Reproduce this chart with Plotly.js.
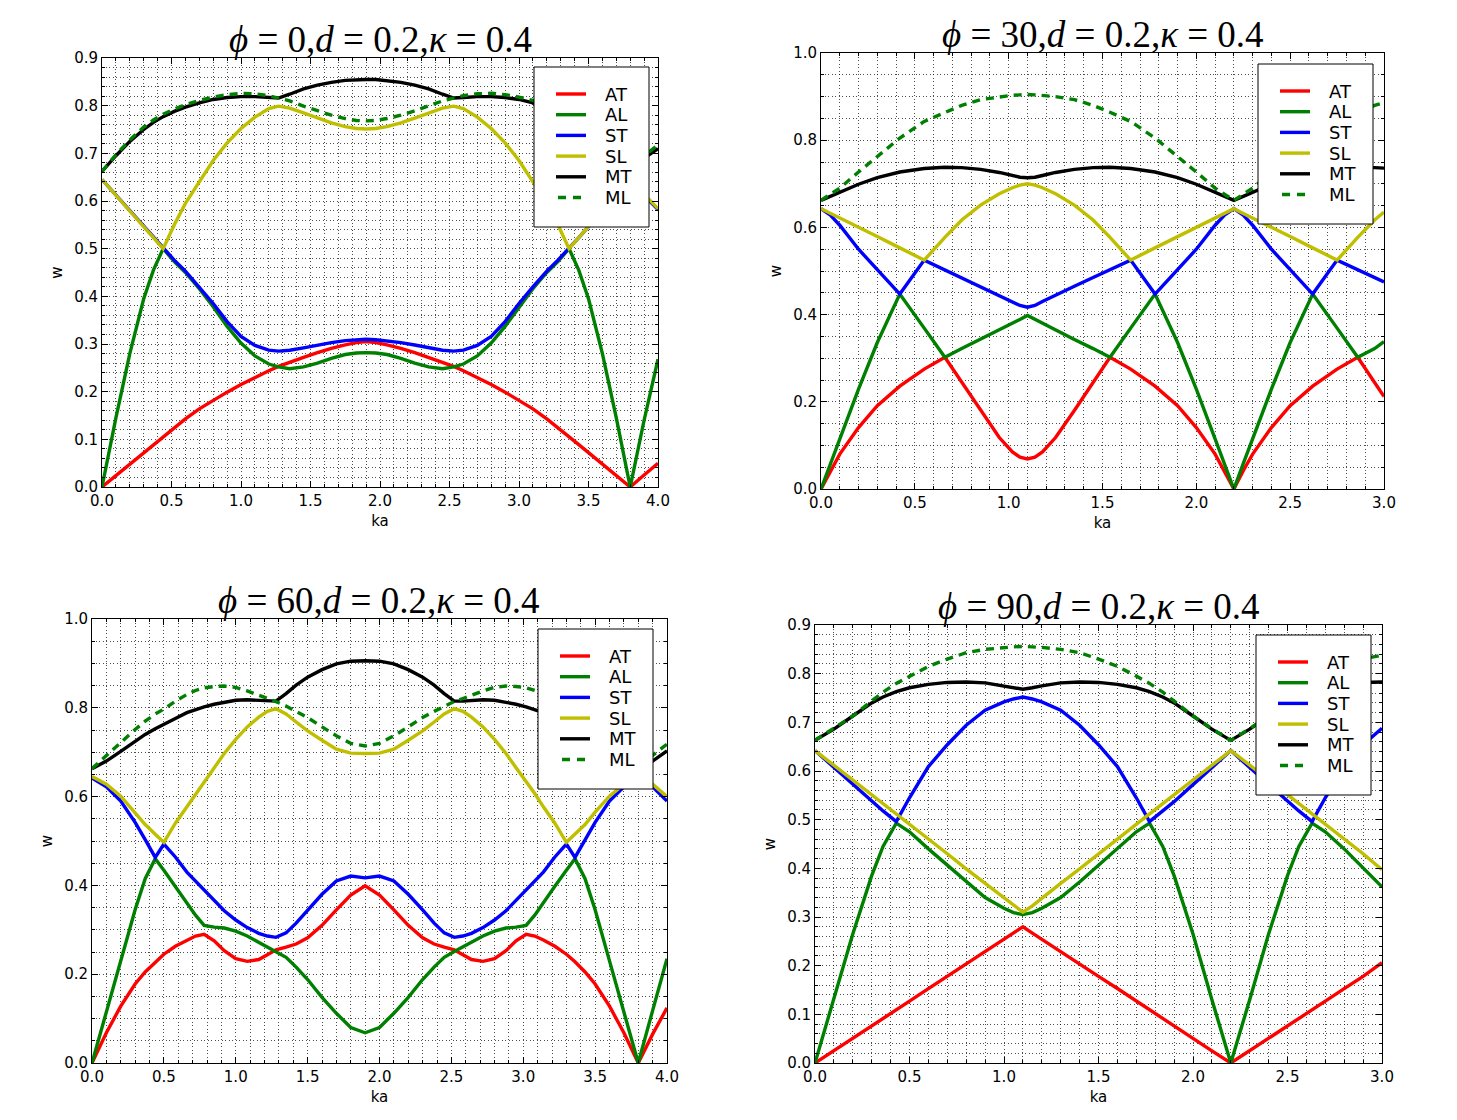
<!DOCTYPE html>
<html>
<head>
<meta charset="utf-8">
<script src="https://cdn.plot.ly/plotly-3.0.1.min.js"></script>
<style>
  html, body { margin: 0; padding: 0; background: #fff; }
  #chart { width: 1457px; height: 1120px; }
</style>
</head>
<body>
<div id="chart"></div>
<script>
// ---------- phi = 0 ----------
const KA_PHI0 = [0, 0.1, 0.2, 0.3, 0.37, 0.44, 0.52, 0.6, 0.7, 0.8, 0.9, 1.0, 1.1, 1.2, 1.27, 1.35, 1.45, 1.55, 1.65, 1.75, 1.83, 1.9,
  1.97, 2.05, 2.15, 2.25, 2.35, 2.45, 2.53, 2.6, 2.7, 2.8, 2.9, 3.0, 3.1, 3.2, 3.28, 3.36, 3.43, 3.5, 3.6, 3.7, 3.8, 3.9, 4.0];
const AT_PHI0 = [0, 0.024, 0.048, 0.072, 0.089, 0.106, 0.125, 0.143, 0.164, 0.182, 0.199, 0.215, 0.23, 0.244, 0.253, 0.262, 0.272, 0.282, 0.291, 0.298, 0.303, 0.305,
  0.303, 0.298, 0.291, 0.282, 0.272, 0.262, 0.253, 0.244, 0.23, 0.215, 0.199, 0.182, 0.164, 0.143, 0.125, 0.106, 0.089, 0.072, 0.048, 0.024, 0, 0.025, 0.05];
const AL_PHI0 = [0, 0.145, 0.28, 0.395, 0.455, 0.5, 0.473, 0.45, 0.416, 0.378, 0.337, 0.302, 0.275, 0.258, 0.252, 0.248, 0.252, 0.26, 0.27, 0.278, 0.281, 0.282,
  0.281, 0.278, 0.27, 0.26, 0.252, 0.248, 0.252, 0.258, 0.275, 0.302, 0.337, 0.378, 0.416, 0.45, 0.473, 0.5, 0.455, 0.395, 0.28, 0.145, 0, 0.14, 0.268];
const ST_PHI0 = [0.645, 0.612, 0.579, 0.546, 0.523, 0.5, 0.476, 0.453, 0.42, 0.385, 0.347, 0.316, 0.297, 0.287, 0.285, 0.287, 0.292, 0.298, 0.303, 0.307, 0.309, 0.31,
  0.309, 0.307, 0.303, 0.298, 0.292, 0.287, 0.285, 0.287, 0.297, 0.316, 0.347, 0.385, 0.42, 0.453, 0.476, 0.5, 0.523, 0.546, 0.579, 0.612, 0.645, 0.612, 0.582];
const SL_PHI0 = [0.645, 0.612, 0.579, 0.546, 0.523, 0.5, 0.55, 0.595, 0.64, 0.685, 0.722, 0.752, 0.776, 0.794, 0.799, 0.795, 0.785, 0.774, 0.764, 0.756, 0.752, 0.751,
  0.752, 0.756, 0.764, 0.774, 0.785, 0.795, 0.799, 0.794, 0.776, 0.752, 0.722, 0.685, 0.64, 0.595, 0.55, 0.5, 0.523, 0.546, 0.579, 0.612, 0.645, 0.614, 0.584];
const MT_PHI0 = [0.662, 0.695, 0.725, 0.75, 0.765, 0.777, 0.788, 0.797, 0.806, 0.813, 0.817, 0.819, 0.819, 0.817, 0.816, 0.824, 0.835, 0.843, 0.849, 0.853, 0.855, 0.855,
  0.855, 0.853, 0.849, 0.843, 0.835, 0.824, 0.816, 0.817, 0.819, 0.819, 0.817, 0.813, 0.806, 0.797, 0.788, 0.777, 0.765, 0.75, 0.725, 0.695, 0.662, 0.69, 0.71];
const ML_PHI0 = [0.662, 0.697, 0.728, 0.755, 0.77, 0.782, 0.793, 0.802, 0.811, 0.818, 0.823, 0.826, 0.825, 0.821, 0.816, 0.81, 0.799, 0.789, 0.78, 0.773, 0.769, 0.768,
  0.769, 0.773, 0.78, 0.789, 0.799, 0.81, 0.816, 0.821, 0.825, 0.826, 0.823, 0.818, 0.811, 0.802, 0.793, 0.782, 0.77, 0.755, 0.728, 0.697, 0.662, 0.694, 0.718];

// ---------- phi = 30 ----------
const KA_PHI30 = [0, 0.05, 0.1, 0.2, 0.3, 0.42, 0.55, 0.66, 0.75, 0.85, 0.95, 1.02, 1.06, 1.1,
  1.14, 1.18, 1.25, 1.35, 1.45, 1.54, 1.65, 1.78, 1.9, 2.0, 2.1, 2.15, 2.2,
  2.25, 2.3, 2.4, 2.5, 2.62, 2.75, 2.86, 2.95, 3.0];
const AT_PHI30 = [0, 0.042, 0.08, 0.141, 0.191, 0.236, 0.275, 0.302, 0.245, 0.18, 0.118, 0.085, 0.073, 0.069,
  0.073, 0.085, 0.118, 0.18, 0.245, 0.302, 0.275, 0.236, 0.191, 0.141, 0.08, 0.042, 0,
  0.042, 0.08, 0.141, 0.191, 0.236, 0.275, 0.302, 0.245, 0.212];
const AL_PHI30 = [0, 0.058, 0.115, 0.229, 0.336, 0.447, 0.369, 0.302, 0.322, 0.343, 0.365, 0.38, 0.389, 0.398,
  0.389, 0.38, 0.365, 0.343, 0.322, 0.302, 0.369, 0.447, 0.336, 0.229, 0.115, 0.058, 0,
  0.058, 0.115, 0.229, 0.336, 0.447, 0.369, 0.302, 0.322, 0.338];
const ST_PHI30 = [0.643, 0.628, 0.605, 0.55, 0.503, 0.447, 0.525, 0.503, 0.485, 0.465, 0.445, 0.43, 0.421, 0.417,
  0.421, 0.43, 0.445, 0.465, 0.485, 0.503, 0.525, 0.447, 0.503, 0.55, 0.605, 0.628, 0.643,
  0.628, 0.605, 0.55, 0.503, 0.447, 0.525, 0.503, 0.485, 0.475];
const SL_PHI30 = [0.643, 0.632, 0.621, 0.6, 0.579, 0.553, 0.525, 0.577, 0.617, 0.651, 0.677, 0.691, 0.697, 0.7,
  0.697, 0.691, 0.677, 0.651, 0.617, 0.577, 0.525, 0.553, 0.579, 0.6, 0.621, 0.632, 0.643,
  0.632, 0.621, 0.6, 0.579, 0.553, 0.525, 0.577, 0.617, 0.635];
const MT_PHI30 = [0.662, 0.671, 0.68, 0.699, 0.714, 0.727, 0.735, 0.738, 0.737, 0.733, 0.726, 0.719, 0.715, 0.714,
  0.715, 0.719, 0.726, 0.733, 0.737, 0.738, 0.735, 0.727, 0.714, 0.699, 0.68, 0.671, 0.662,
  0.671, 0.68, 0.699, 0.714, 0.727, 0.735, 0.738, 0.737, 0.736];
const ML_PHI30 = [0.662, 0.676, 0.69, 0.727, 0.763, 0.805, 0.843, 0.864, 0.88, 0.893, 0.9, 0.903, 0.904, 0.905,
  0.904, 0.903, 0.9, 0.893, 0.88, 0.864, 0.843, 0.805, 0.763, 0.727, 0.69, 0.676, 0.662,
  0.676, 0.69, 0.727, 0.763, 0.805, 0.843, 0.864, 0.88, 0.886];

// ---------- phi = 60 ----------
const KA_PHI60 = [0, 0.1, 0.2, 0.3, 0.37, 0.44, 0.5, 0.58, 0.66, 0.72, 0.78, 0.85, 0.92, 1.0, 1.08, 1.16, 1.22, 1.28, 1.35, 1.42, 1.5, 1.6, 1.7, 1.8, 1.9,
  2.0, 2.1, 2.2, 2.3, 2.38, 2.45, 2.52, 2.58, 2.64, 2.72, 2.8, 2.88, 2.95, 3.02, 3.08, 3.14, 3.22, 3.3, 3.36, 3.43, 3.5, 3.6, 3.7, 3.8, 3.9, 4.0];
const AT_PHI60 = [0, 0.068, 0.128, 0.178, 0.205, 0.228, 0.245, 0.263, 0.277, 0.286, 0.29, 0.275, 0.253, 0.235, 0.229, 0.233, 0.244, 0.255, 0.261, 0.268, 0.282, 0.31, 0.345, 0.378, 0.399,
  0.378, 0.345, 0.31, 0.282, 0.268, 0.261, 0.255, 0.244, 0.233, 0.229, 0.235, 0.253, 0.275, 0.29, 0.286, 0.277, 0.263, 0.245, 0.228, 0.205, 0.178, 0.128, 0.068, 0, 0.065, 0.124];
const AL_PHI60 = [0, 0.115, 0.23, 0.345, 0.415, 0.46, 0.434, 0.398, 0.362, 0.333, 0.31, 0.306, 0.304, 0.297, 0.286, 0.272, 0.261, 0.251, 0.238, 0.216, 0.188, 0.148, 0.112, 0.08, 0.068,
  0.08, 0.112, 0.148, 0.188, 0.216, 0.238, 0.251, 0.261, 0.272, 0.286, 0.297, 0.304, 0.306, 0.31, 0.333, 0.362, 0.398, 0.434, 0.46, 0.415, 0.345, 0.23, 0.115, 0, 0.118, 0.235];
const ST_PHI60 = [0.642, 0.622, 0.59, 0.542, 0.503, 0.463, 0.493, 0.464, 0.43, 0.41, 0.39, 0.366, 0.343, 0.322, 0.305, 0.292, 0.286, 0.283, 0.293, 0.315, 0.345, 0.38, 0.41, 0.421, 0.417,
  0.421, 0.41, 0.38, 0.345, 0.315, 0.293, 0.283, 0.286, 0.292, 0.305, 0.322, 0.343, 0.366, 0.39, 0.41, 0.43, 0.464, 0.493, 0.463, 0.503, 0.542, 0.59, 0.622, 0.642, 0.622, 0.59];
const SL_PHI60 = [0.645, 0.628, 0.601, 0.565, 0.537, 0.515, 0.497, 0.54, 0.577, 0.607, 0.635, 0.665, 0.697, 0.729, 0.757, 0.779, 0.792, 0.798, 0.786, 0.768, 0.748, 0.727, 0.707, 0.698, 0.697,
  0.698, 0.707, 0.727, 0.748, 0.768, 0.786, 0.798, 0.792, 0.779, 0.757, 0.729, 0.697, 0.665, 0.635, 0.607, 0.577, 0.54, 0.497, 0.515, 0.537, 0.565, 0.601, 0.628, 0.645, 0.628, 0.6];
const MT_PHI60 = [0.663, 0.68, 0.702, 0.725, 0.74, 0.753, 0.762, 0.776, 0.789, 0.796, 0.802, 0.808, 0.813, 0.817, 0.818, 0.817, 0.815, 0.815, 0.832, 0.851, 0.869, 0.886, 0.899, 0.905, 0.906,
  0.905, 0.899, 0.886, 0.869, 0.851, 0.832, 0.815, 0.815, 0.817, 0.818, 0.817, 0.813, 0.808, 0.802, 0.796, 0.789, 0.776, 0.762, 0.753, 0.74, 0.725, 0.702, 0.68, 0.663, 0.68, 0.703];
const ML_PHI60 = [0.663, 0.693, 0.721, 0.751, 0.77, 0.786, 0.797, 0.815, 0.83, 0.839, 0.845, 0.848, 0.849, 0.846, 0.838, 0.829, 0.821, 0.814, 0.804, 0.792, 0.778, 0.757, 0.737, 0.72, 0.714,
  0.72, 0.737, 0.757, 0.778, 0.792, 0.804, 0.814, 0.821, 0.829, 0.838, 0.846, 0.849, 0.848, 0.845, 0.839, 0.83, 0.815, 0.797, 0.786, 0.77, 0.751, 0.721, 0.693, 0.663, 0.693, 0.718];

// ---------- phi = 90 ----------
const KA_PHI90 = [0, 0.1, 0.2, 0.3, 0.36, 0.43, 0.5, 0.6, 0.7, 0.8, 0.9, 1.0, 1.05, 1.1,
  1.15, 1.2, 1.3, 1.4, 1.5, 1.6, 1.7, 1.77, 1.84, 1.9, 2.0, 2.1, 2.2,
  2.3, 2.4, 2.5, 2.56, 2.63, 2.7, 2.8, 2.9, 3.0];
const AT_PHI90 = [0, 0.025, 0.051, 0.076, 0.092, 0.109, 0.127, 0.153, 0.178, 0.204, 0.229, 0.254, 0.267, 0.28,
  0.267, 0.254, 0.229, 0.204, 0.178, 0.153, 0.127, 0.109, 0.092, 0.076, 0.051, 0.025, 0,
  0.025, 0.051, 0.076, 0.092, 0.109, 0.127, 0.153, 0.178, 0.206];
const AL_PHI90 = [0, 0.13, 0.265, 0.385, 0.445, 0.493, 0.475, 0.44, 0.406, 0.372, 0.34, 0.318, 0.309, 0.305,
  0.309, 0.318, 0.34, 0.372, 0.406, 0.44, 0.475, 0.493, 0.445, 0.385, 0.265, 0.13, 0,
  0.13, 0.265, 0.385, 0.445, 0.493, 0.475, 0.44, 0.4, 0.362];
const ST_PHI90 = [0.642, 0.607, 0.572, 0.537, 0.518, 0.496, 0.545, 0.609, 0.654, 0.694, 0.725, 0.742, 0.748, 0.752,
  0.748, 0.742, 0.725, 0.694, 0.654, 0.609, 0.545, 0.496, 0.518, 0.537, 0.572, 0.607, 0.642,
  0.607, 0.572, 0.537, 0.518, 0.496, 0.545, 0.609, 0.654, 0.688];
const SL_PHI90 = [0.642, 0.612, 0.582, 0.551, 0.533, 0.512, 0.49, 0.46, 0.43, 0.399, 0.369, 0.339, 0.323, 0.31,
  0.323, 0.339, 0.369, 0.399, 0.43, 0.46, 0.49, 0.512, 0.533, 0.551, 0.582, 0.612, 0.642,
  0.612, 0.582, 0.551, 0.533, 0.512, 0.49, 0.46, 0.43, 0.397];
const MT_PHI90 = [0.663, 0.686, 0.713, 0.74, 0.752, 0.763, 0.771, 0.778, 0.782, 0.783, 0.781, 0.775, 0.771, 0.768,
  0.771, 0.775, 0.781, 0.783, 0.782, 0.778, 0.771, 0.763, 0.752, 0.74, 0.713, 0.686, 0.663,
  0.686, 0.713, 0.74, 0.752, 0.763, 0.771, 0.778, 0.782, 0.783];
const ML_PHI90 = [0.663, 0.687, 0.713, 0.744, 0.762, 0.78, 0.795, 0.815, 0.83, 0.843, 0.85, 0.854, 0.855, 0.856,
  0.855, 0.854, 0.85, 0.843, 0.83, 0.815, 0.795, 0.78, 0.762, 0.744, 0.713, 0.687, 0.663,
  0.687, 0.713, 0.744, 0.762, 0.78, 0.795, 0.815, 0.83, 0.838];

// Branch names and the panel titles
const BRANCH_NAMES = ['AT', 'AL', 'ST', 'SL', 'MT', 'ML'];
const PHI_VALUES = [0, 30, 60, 90];

// ---------- drawing ----------
const W = 1457, H = 1120;
const LINE_W = 3.4;
const BRANCH_STYLE = [
  { color: '#ff0000', dash: 'solid' },
  { color: '#008000', dash: 'solid' },
  { color: '#0000ff', dash: 'solid' },
  { color: '#bfbf00', dash: 'solid' },
  { color: '#000000', dash: 'solid' },
  { color: '#008000', dash: '8px,6px' }
];

// panel frames in pixels: left, right, top, bottom; legend box top-left corner
const PANELS = [
  { ka: KA_PHI0,  ys: [AT_PHI0, AL_PHI0, ST_PHI0, SL_PHI0, MT_PHI0, ML_PHI0],
    box: [102, 658, 58, 487],  xr: [0, 4], yr: [0, 0.9], ydt: 0.1, yminor: 0.02, leg: [534, 67] },
  { ka: KA_PHI30, ys: [AT_PHI30, AL_PHI30, ST_PHI30, SL_PHI30, MT_PHI30, ML_PHI30],
    box: [821, 1384, 53, 489], xr: [0, 3], yr: [0, 1.0], ydt: 0.2, yminor: 0.05, leg: [1258, 64] },
  { ka: KA_PHI60, ys: [AT_PHI60, AL_PHI60, ST_PHI60, SL_PHI60, MT_PHI60, ML_PHI60],
    box: [92, 667, 619, 1063], xr: [0, 4], yr: [0, 1.0], ydt: 0.2, yminor: 0.05, leg: [538, 629] },
  { ka: KA_PHI90, ys: [AT_PHI90, AL_PHI90, ST_PHI90, SL_PHI90, MT_PHI90, ML_PHI90],
    box: [815, 1382, 625, 1063], xr: [0, 3], yr: [0, 0.9], ydt: 0.1, yminor: 0.02, leg: [1256, 635] }
];

const GRID = { color: 'rgba(0,0,0,0.7)', dash: '1px,2.5px' };
const TICK_FONT = { family: 'DejaVu Sans, sans-serif', size: 15, color: '#000' };
const LABEL_FONT = { family: 'DejaVu Sans, sans-serif', size: 15, color: '#000' };

const px = v => v / W;          // pixel x -> paper
const py = v => 1 - v / H;      // pixel y -> paper

function axisBase() {
  return {
    showline: true, linecolor: '#000', linewidth: 1, mirror: 'allticks',
    ticks: 'inside', ticklen: 6, tickwidth: 1, tickcolor: '#000',
    tickfont: TICK_FONT, tickformat: '.1f',
    showgrid: true, gridcolor: GRID.color, griddash: GRID.dash, gridwidth: 1,
    zeroline: false, fixedrange: true, automargin: false
  };
}

const traces = [];
const layout = {
  width: W, height: H,
  margin: { l: 0, r: 0, t: 0, b: 0 },
  paper_bgcolor: '#fff', plot_bgcolor: '#fff',
  showlegend: false,
  annotations: [],
  shapes: []
};

PANELS.forEach((p, i) => {
  const n = i === 0 ? '' : String(i + 1);
  const [l, r, t, b] = p.box;
  const xd = [px(l), px(r)];
  const yd = [py(b), py(t)];

  layout['xaxis' + n] = Object.assign(axisBase(), {
    domain: xd, range: p.xr, dtick: 0.5, tick0: 0, anchor: 'y' + n,
    minor: { dtick: 0.1, ticks: 'inside', ticklen: 3, tickcolor: '#000',
             showgrid: true, gridcolor: GRID.color, griddash: GRID.dash, gridwidth: 1 },
    title: { text: 'ka', font: LABEL_FONT, standoff: 6 }
  });
  layout['yaxis' + n] = Object.assign(axisBase(), {
    domain: yd, range: p.yr, dtick: p.ydt, tick0: 0, anchor: 'x' + n,
    minor: { dtick: p.yminor, ticks: 'inside', ticklen: 3, tickcolor: '#000',
             showgrid: true, gridcolor: GRID.color, griddash: GRID.dash, gridwidth: 1 },
    title: { text: 'w', font: LABEL_FONT, standoff: 7 }
  });

  BRANCH_NAMES.forEach((name, k) => {
    traces.push({
      type: 'scatter', mode: 'lines',
      x: p.ka, y: p.ys[k], name: name,
      xaxis: 'x' + n, yaxis: 'y' + n,
      line: { color: BRANCH_STYLE[k].color, width: LINE_W, dash: BRANCH_STYLE[k].dash },
      hoverinfo: 'skip'
    });
  });

  // legend box: white panel with a key line and label per branch
  const [lx, ly] = p.leg;
  layout.shapes.push({
    type: 'rect', xref: 'paper', yref: 'paper', layer: 'above',
    x0: px(lx), x1: px(lx + 115), y0: py(ly + 160), y1: py(ly),
    fillcolor: '#fff', line: { color: '#000', width: 1 }
  });
  BRANCH_NAMES.forEach((name, k) => {
    const yy = ly + 27 + k * 20.7;
    const dashed = BRANCH_STYLE[k].dash !== 'solid';
    layout.shapes.push({
      type: 'line', xref: 'paper', yref: 'paper', layer: 'above',
      x0: px(lx + (dashed ? 24 : 22)), x1: px(lx + 52), y0: py(yy), y1: py(yy),
      line: { color: BRANCH_STYLE[k].color, width: LINE_W, dash: dashed ? '8px,7px' : 'solid' }
    });
    layout.annotations.push({
      xref: 'paper', yref: 'paper', x: px(lx + 69), y: py(yy),
      xanchor: 'left', yanchor: 'middle', showarrow: false,
      text: name, font: { family: 'DejaVu Sans, sans-serif', size: 18, color: '#000' }
    });
  });

  layout.annotations.push({
    xref: 'paper', yref: 'paper', x: (xd[0] + xd[1]) / 2, y: yd[1],
    xanchor: 'center', yanchor: 'bottom', showarrow: false, yshift: -4,
    text: '<i>ϕ</i> = ' + PHI_VALUES[i] + ',<i>d</i> = 0.2,<i>κ</i> = 0.4',
    font: { family: 'Liberation Serif, DejaVu Serif, serif', size: 37, color: '#000' }
  });
});

Plotly.newPlot('chart', traces, layout, { displayModeBar: false, staticPlot: true });
</script>
</body>
</html>
